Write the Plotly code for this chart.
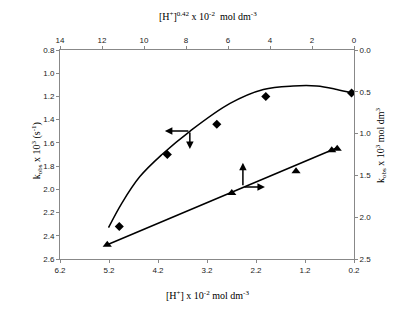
import plotly.graph_objects as go

# Diamonds: [H+] x 10^-2 (bottom axis) vs kobs x 10^3 (left axis)
h_conc = [4.99, 4.01, 3.00, 2.00, 0.25]
kobs_left = [2.32, 1.70, 1.44, 1.20, 1.17]

# Smooth curve through diamond data
curve_x = [5.21, 4.94, 4.57, 4.12, 3.55, 2.73, 2.05, 1.44, 0.96, 0.55, 0.25]
curve_y = [2.33, 2.12, 1.89, 1.70, 1.50, 1.26, 1.14, 1.11, 1.11, 1.14, 1.17]

# Triangles: [H+]^0.42 x 10^-2 (top axis) vs kobs x 10^3 (right axis)
h_pow = [11.75, 5.82, 2.76, 1.06, 0.80]
kobs_right = [2.33, 1.71, 1.45, 1.20, 1.18]

# Linear trend line endpoints
trend_x = [11.75, 0.80]
trend_y = [2.33, 1.17]

bottom_ticks = [6.2, 5.2, 4.2, 3.2, 2.2, 1.2, 0.2]
top_ticks = [14, 12, 10, 8, 6, 4, 2, 0]
left_ticks = [0.8, 1.0, 1.2, 1.4, 1.6, 1.8, 2.0, 2.2, 2.4, 2.6]
right_ticks = [0.0, 0.5, 1.0, 1.5, 2.0, 2.5]

fig = go.Figure()
fig.add_trace(go.Scatter(x=curve_x, y=curve_y, mode="lines", line=dict(color="black", width=1.5, shape="spline"),
                         xaxis="x", yaxis="y", showlegend=False, hoverinfo="skip"))
fig.add_trace(go.Scatter(x=h_conc, y=kobs_left, mode="markers", marker=dict(symbol="diamond", size=7, color="black"),
                         xaxis="x", yaxis="y", showlegend=False))
fig.add_trace(go.Scatter(x=trend_x, y=trend_y, mode="lines", line=dict(color="black", width=1.5),
                         xaxis="x2", yaxis="y2", showlegend=False, hoverinfo="skip"))
fig.add_trace(go.Scatter(x=h_pow, y=kobs_right, mode="markers", marker=dict(symbol="triangle-up", size=8, color="black"),
                         xaxis="x2", yaxis="y2", showlegend=False))

tickfont = dict(family="Liberation Sans, Arial, sans-serif", size=8, color="#222")
axis_common = dict(showline=True, linecolor="#888", linewidth=1, ticks="outside", ticklen=3,
                   tickcolor="#888", showgrid=False, zeroline=False, tickfont=tickfont, fixedrange=True)

fig.update_layout(
    width=393, height=312,
    margin=dict(l=60, r=39, t=50, b=53),
    paper_bgcolor="white", plot_bgcolor="white",
    xaxis=dict(range=[6.2, 0.2], tickvals=bottom_ticks, ticktext=[f"{v:.1f}" for v in bottom_ticks], **axis_common),
    xaxis2=dict(range=[14, 0], overlaying="x", side="top", tickvals=top_ticks,
                ticktext=[str(v) for v in top_ticks], anchor="y", **axis_common),
    yaxis=dict(range=[2.6, 0.8], tickvals=left_ticks, ticktext=[f"{v:.1f}" for v in left_ticks], **axis_common),
    yaxis2=dict(range=[2.5, 0], overlaying="y", side="right", tickvals=right_ticks,
                ticktext=[f"{v:.1f}" for v in right_ticks], anchor="x", **axis_common),
)

titlefont = dict(family="Liberation Serif, Times New Roman, serif", size=10, color="black")
fig.add_annotation(text="[H<sup>+</sup>]<sup>0.42</sup> x 10<sup>-2</sup>  mol dm<sup>-3</sup>", xref="paper", yref="paper",
                   x=0.505, y=1.20, showarrow=False, font=titlefont)
fig.add_annotation(text="[H<sup>+</sup>] x 10<sup>-2</sup> mol dm<sup>-3</sup>", xref="paper", yref="paper",
                   x=0.50, y=-0.21, showarrow=False, font=titlefont)
fig.add_annotation(text="k<sub>obs</sub> x 10<sup>3</sup> (s<sup>-1</sup>)", xref="paper", yref="paper",
                   x=-0.109, y=0.52, textangle=-90, showarrow=False, font=titlefont)
fig.add_annotation(text="k<sub>obs</sub> x 10<sup>3</sup> mol dm<sup>3</sup>", xref="paper", yref="paper",
                   x=1.122, y=0.545, textangle=-90, showarrow=False, font=titlefont)

arrow = dict(showarrow=True, arrowhead=2, arrowsize=1, arrowwidth=1.5, arrowcolor="black", text="", axref="pixel", ayref="pixel")
# curve arrows (left & down)
fig.add_annotation(x=4.06, y=1.498, xref="x", yref="y", ax=25, ay=0, **arrow)
fig.add_annotation(x=3.55, y=1.653, xref="x", yref="y", ax=0, ay=-18, **arrow)
# line arrows (up & right)
fig.add_annotation(x=5.29, y=1.35, xref="x2", yref="y2", ax=0, ay=24, **arrow)
fig.add_annotation(x=4.24, y=1.64, xref="x2", yref="y2", ax=-22, ay=0, **arrow)

fig.write_html("out.html", config={"displayModeBar": False},
               post_script="document.body.style.margin='0';document.body.style.padding='0';")
